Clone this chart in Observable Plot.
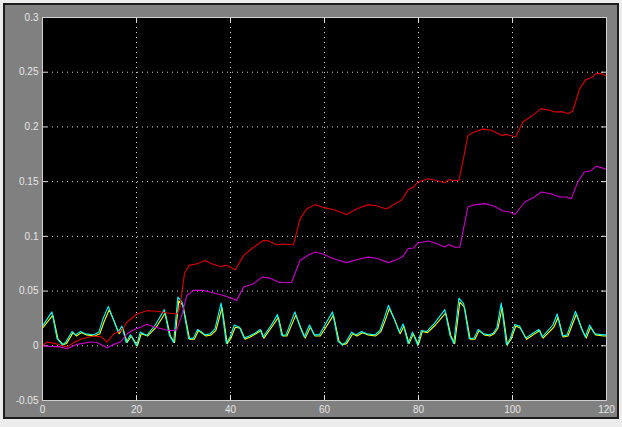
<!DOCTYPE html>
<html>
<head>
<meta charset="utf-8">
<script src="https://cdn.jsdelivr.net/npm/d3@7"></script>
<script src="https://cdn.jsdelivr.net/npm/@observablehq/plot@0.6"></script>
<style>
  html, body { margin: 0; padding: 0; background: #ececec; }
  #wrap { position: relative; width: 622px; height: 427px; background: #ececec; overflow: hidden; }
  #panel { position: absolute; left: 3px; top: 3px; width: 612px; height: 412px; border: 2px solid #1c1c1c; background: #808080; }
  #chart { position: absolute; left: 0; top: 0; }
</style>
</head>
<body>
<div id="wrap"><div id="panel"></div><div id="chart"></div></div>
<script>
// Tick values
const xTicks = [0, 20, 40, 60, 80, 100, 120];
const yTicks = [-0.05, 0, 0.05, 0.1, 0.15, 0.2, 0.25, 0.3];
const xGrid = [20, 40, 60, 80, 100];
const yGrid = [0, 0.05, 0.1, 0.15, 0.2, 0.25];

// Red series
const redT = [0,1,2.8,4.2,5.3,6.7,8.4,10.9,12.6,13.7,15.2,16.9,18,20.1,22.2,24.4,26.5,28.6,29.2,30.2,31.2,32.9,34.6,36,37.8,39.1,41,42.8,44.9,47,48,49.8,51.3,53.4,54.8,56.2,58,60.1,61.9,64.7,66.8,69.3,71,73.2,75.3,76.4,77.8,78.9,79.9,82.1,83.8,85.6,86.5,87.3,88.6,89.6,90.5,91.6,93.7,95.5,97.6,98.7,100.7,102.2,104,106.1,107.9,109,110.4,111.8,112.8,114.3,115.6,116.8,117.8,118.9,120];
const redV = [0,0.0035,0.002,0,-0.001,0.003,0.0065,0.009,0.008,0.0035,0.011,0.014,0.0217,0.029,0.032,0.0315,0.030,0.029,0.034,0.066,0.0735,0.075,0.078,0.075,0.0725,0.0735,0.0695,0.0826,0.090,0.0963,0.096,0.0924,0.093,0.0924,0.116,0.125,0.129,0.126,0.1245,0.120,0.125,0.129,0.128,0.125,0.1305,0.133,0.1427,0.145,0.1497,0.1527,0.151,0.149,0.152,0.151,0.151,0.172,0.1923,0.195,0.198,0.197,0.1923,0.193,0.191,0.2045,0.2097,0.2167,0.2153,0.2137,0.214,0.2122,0.2143,0.235,0.2432,0.2452,0.2487,0.2487,0.2465];

// Magenta series
const magT = [0,1.5,3.7,5.2,7.4,10.2,11.6,13.7,15.2,16.6,18,19.4,20.8,22.2,24,25.4,26.8,27.9,28.6,29.7,30.7,32.1,34.3,37.1,39.2,41.3,42.8,44.9,46.7,48.4,50.2,52,53,54.8,56.6,58,59.8,61.9,64.7,66.8,69.3,71.1,73.6,75.3,76.7,77.8,78.9,79.9,82.1,83.8,85.6,86.5,87.7,88.8,90.5,91.9,94.1,95.9,98,99.4,100.5,102.6,104.4,106.1,108.2,110,111.4,112.5,113.9,115.3,116.7,117.8,118.9,120];
const magV = [0,-0.0005,-0.001,-0.0027,0.0013,0.0034,0.003,-0.0018,0.0013,0.0034,0.011,0.0147,0.017,0.0196,0.017,0.0156,0.014,0.014,0.015,0.029,0.046,0.0506,0.0506,0.0476,0.045,0.0415,0.0537,0.0567,0.0628,0.0618,0.0582,0.0576,0.058,0.078,0.083,0.0857,0.0836,0.0796,0.076,0.0787,0.081,0.080,0.076,0.0787,0.0817,0.0888,0.0893,0.094,0.0957,0.0934,0.0902,0.0925,0.090,0.0902,0.1268,0.1288,0.1299,0.128,0.1231,0.1222,0.120,0.1314,0.1352,0.1405,0.139,0.136,0.136,0.1345,0.1497,0.1588,0.160,0.164,0.1628,0.161];

// Cyan series
const cyanT = [0,2,3.1,4.2,4.9,6.3,7,8.1,9.1,10.9,12,12.9,14,15,16.1,16.9,17.8,18.7,20,20.8,22.2,24,25.9,27,27.9,28.8,29.7,31.1,32.1,33,33.9,34.6,35.7,36.7,38,39.1,39.9,40.8,41.9,42.9,44,45.2,46.3,46.9,48.4,50,50.9,51.8,53.7,54.9,55.7,56.8,57.8,58.9,60.1,61.7,62.9,63.7,64.5,65.8,66.7,67.9,69,70.7,71.8,72.7,73.6,74.8,75.9,76.7,77.8,78.7,79.8,80.6,81.7,83.4,85.6,86.7,87.5,88.6,89.6,90.8,91.8,92.7,93.8,95,95.9,96.7,97.6,98.7,99.5,100.5,101.5,102.8,104.2,105.6,106.3,108.6,109.5,110.6,111.6,113.4,114.6,115.5,116.4,117.5,119.2,120];
const cyanV = [0.018,0.031,0.0065,0.001,0.003,0.013,0.010,0.013,0.011,0.010,0.0125,0.025,0.036,0.025,0.0125,0.018,0.003,0.010,0.000,0.0125,0.0095,0.019,0.033,0.0095,0.003,0.0445,0.040,0.0065,0.007,0.015,0.0125,0.010,0.011,0.0155,0.039,0.002,0.008,0.019,0.017,0.007,0.009,0.0115,0.015,0.008,0.017,0.0285,0.0095,0.010,0.031,0.016,0.008,0.019,0.010,0.010,0.019,0.031,0.004,0.001,0.003,0.0125,0.010,0.013,0.011,0.010,0.014,0.025,0.037,0.025,0.0125,0.020,0.002,0.0125,0.001,0.014,0.013,0.0205,0.033,0.0095,0.002,0.0435,0.0385,0.0065,0.007,0.015,0.011,0.010,0.0115,0.017,0.039,0.001,0.0065,0.0195,0.018,0.007,0.011,0.015,0.008,0.019,0.029,0.009,0.010,0.0315,0.0165,0.008,0.019,0.011,0.010,0.010];

// Yellow series (nearly coincident with cyan, slightly lower peaks)
const yelT = [0,2.2,3.3,4.4,5.1,6.5,7.2,8.3,9.3,11.1,12.2,13.1,14.2,15.2,16.3,17.1,18,18.9,20.2,21,22.4,24.2,26.1,27.2,28.1,29,29.9,31.3,32.3,33.2,34.1,34.8,35.9,36.9,38.2,39.3,40.1,41,42.1,43.1,44.2,45.4,46.5,47.1,48.6,50.2,51.1,52,53.9,55.1,55.9,57,58,59.1,60.3,61.9,63.1,63.9,64.7,66,66.9,68.1,69.2,70.9,72,72.9,73.8,75,76.1,76.9,78,78.9,80,80.8,81.9,83.6,85.8,86.9,87.7,88.8,89.8,91,92,92.9,94,95.2,96.1,96.9,97.8,98.9,99.7,100.7,101.7,103,104.4,105.8,106.5,108.8,109.7,110.8,111.8,113.6,114.8,115.7,116.6,117.7,119.4,120];
const yelV = [0.016,0.028,0.006,0.001,0.002,0.012,0.009,0.012,0.010,0.009,0.011,0.022,0.033,0.023,0.011,0.016,0.003,0.009,0.000,0.011,0.009,0.017,0.030,0.009,0.003,0.041,0.037,0.006,0.006,0.014,0.011,0.009,0.010,0.014,0.035,0.002,0.007,0.017,0.016,0.006,0.008,0.011,0.014,0.007,0.016,0.026,0.009,0.009,0.028,0.015,0.007,0.017,0.009,0.009,0.017,0.028,0.004,0.001,0.002,0.011,0.009,0.012,0.010,0.009,0.013,0.023,0.034,0.023,0.011,0.018,0.002,0.011,0.001,0.013,0.012,0.019,0.030,0.009,0.002,0.040,0.035,0.006,0.006,0.014,0.010,0.009,0.011,0.016,0.035,0.001,0.006,0.018,0.016,0.006,0.010,0.014,0.007,0.017,0.026,0.008,0.009,0.029,0.015,0.007,0.017,0.010,0.009,0.009];

const chart = Plot.plot({
  width: 622,
  height: 427,
  marginLeft: 42,
  marginRight: 16,
  marginTop: 17,
  marginBottom: 27,
  style: { background: "transparent", color: "#e6e6e6", fontFamily: "Liberation Sans, Arial, sans-serif", fontSize: "10px" },
  x: { domain: [0, 120], ticks: xTicks, tickSize: 0, tickPadding: 5, tickFormat: d => String(d), label: null },
  y: { domain: [-0.05, 0.3], ticks: yTicks, tickSize: 0, tickPadding: 4, tickFormat: d => String(d), label: null },
  marks: [
    Plot.frame({ fill: "black", stroke: "none" }),
    Plot.ruleX(xGrid, { x: d => d, stroke: "white", strokeOpacity: 0.85, strokeDasharray: "1,4" }),
    Plot.ruleY(yGrid, { y: d => d, stroke: "white", strokeOpacity: 0.85, strokeDasharray: "1,4" }),
    Plot.tickX(xGrid, { x: d => d, stroke: "#e0e0e0", insetBottom: 378 }),
    Plot.tickX(xGrid, { x: d => d, stroke: "#e0e0e0", insetTop: 378 }),
    Plot.tickY(yGrid, { y: d => d, stroke: "#e0e0e0", insetRight: 559 }),
    Plot.tickY(yGrid, { y: d => d, stroke: "#e0e0e0", insetLeft: 559 }),
    Plot.line(yelV, { x: yelT, y: d => d, stroke: "#ffff00", strokeWidth: 1.1 }),
    Plot.line(cyanV, { x: cyanT, y: d => d, stroke: "#00ffff", strokeWidth: 1.1 }),
    Plot.line(magV, { x: magT, y: d => d, stroke: "#cc00cc", strokeWidth: 1.1 }),
    Plot.line(redV, { x: redT, y: d => d, stroke: "#dd0000", strokeWidth: 1.1 }),
    Plot.frame({ stroke: "#d0d0d0" })
  ]
});
document.getElementById("chart").appendChild(chart);
</script>
</body>
</html>
